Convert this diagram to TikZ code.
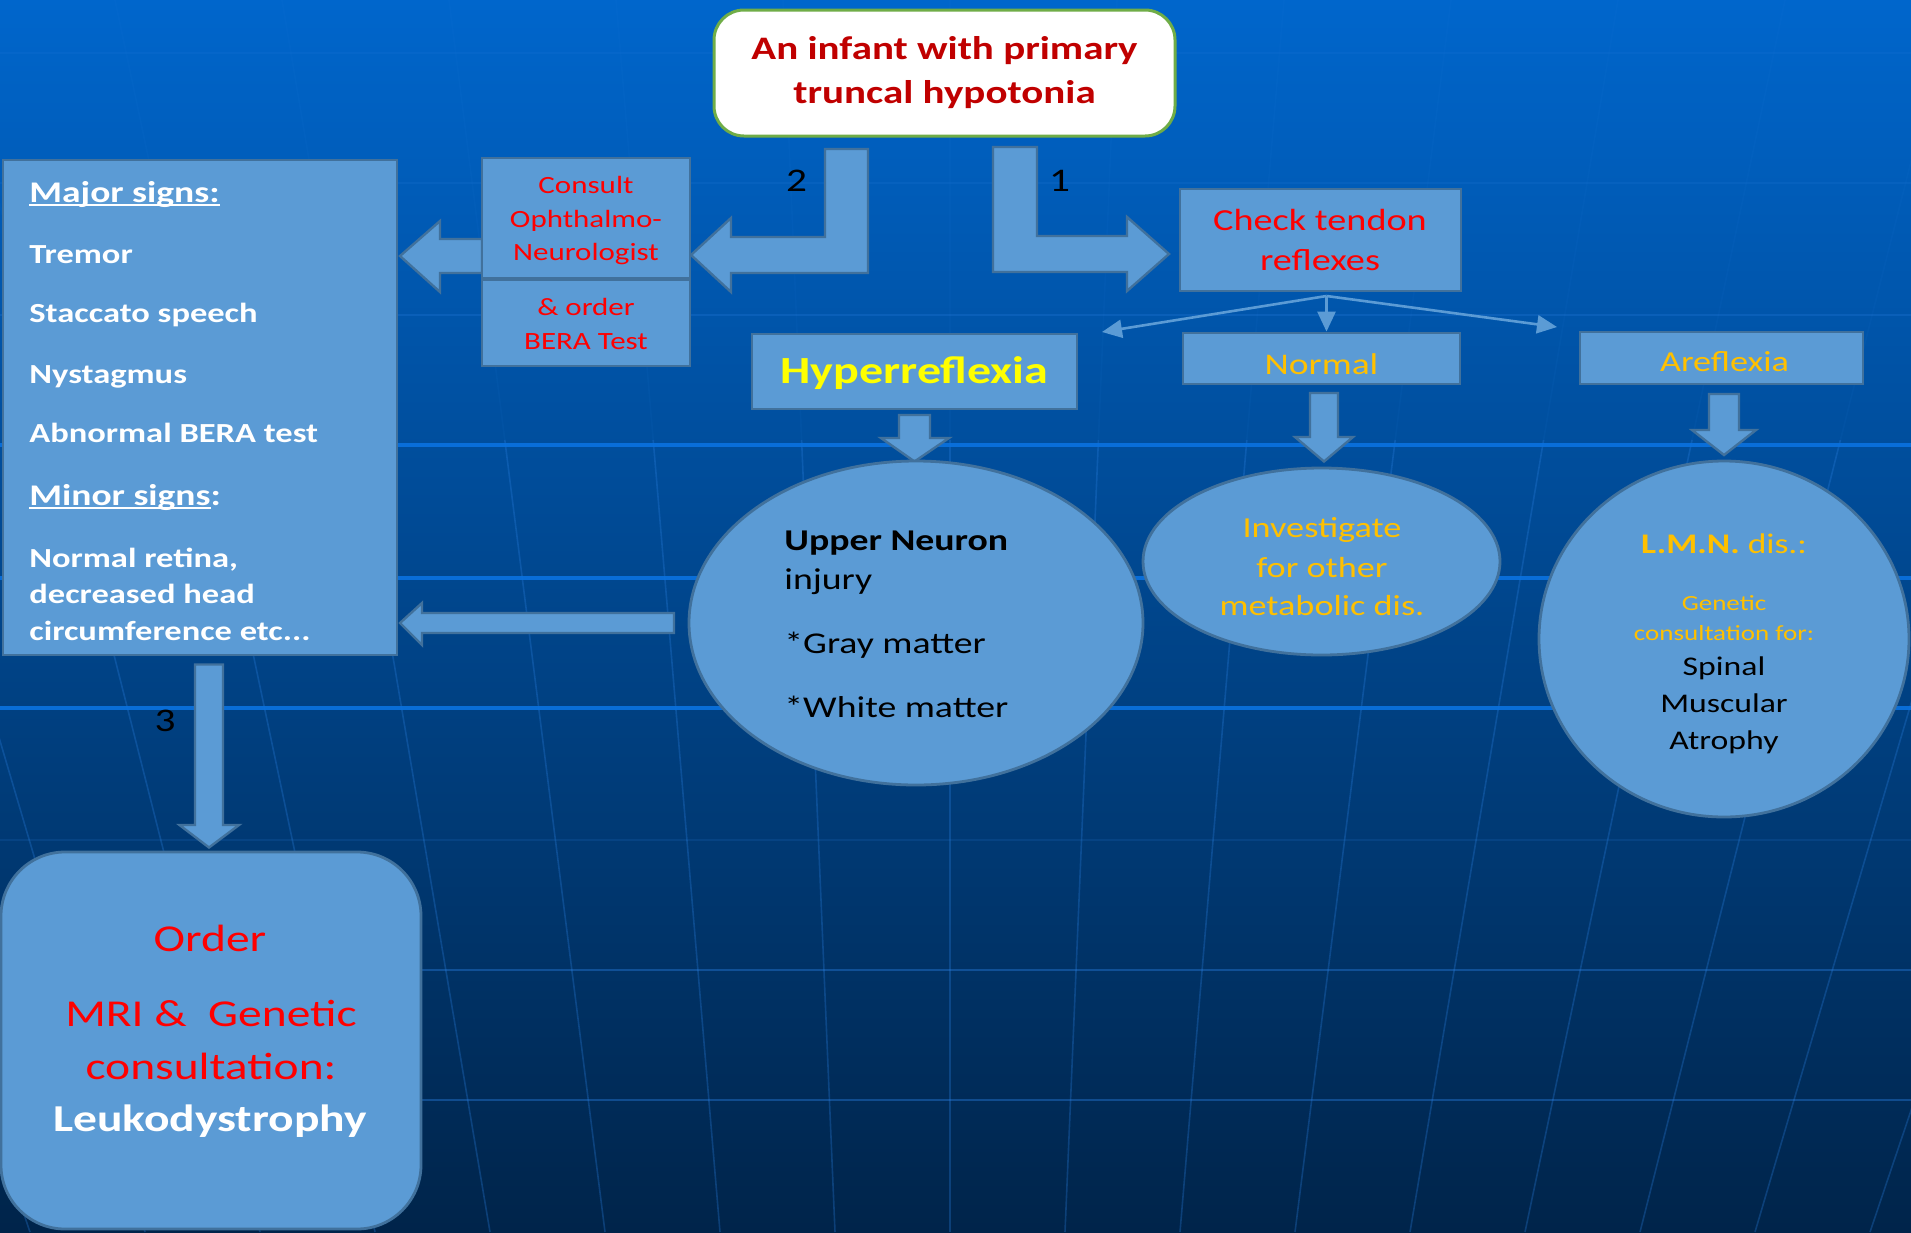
\documentclass[tikz,border=0pt]{standalone}
\usepackage{fontspec}
\setmainfont{Carlito}[FakeStretch=1.25]
\usetikzlibrary{shapes.geometric,arrows.meta}
\definecolor{bgtop}{HTML}{0066CC}
\definecolor{bgmid}{HTML}{004C98}
\definecolor{bgbot}{HTML}{00244A}
\definecolor{boxfill}{HTML}{5B9BD5}
\definecolor{boxline}{HTML}{41719C}
\definecolor{txtred}{HTML}{FF0000}
\definecolor{darkred}{HTML}{C00000}
\definecolor{gold}{HTML}{FFC000}
\definecolor{brightyellow}{HTML}{FFFF00}
\definecolor{topgreen}{HTML}{70AD47}
\definecolor{gridbright}{HTML}{0A72E0}
\definecolor{gridfaint}{HTML}{2A7FE0}
\newcommand\fs[1]{\fontsize{#1}{#1}\selectfont}
\newcommand\myul[1]{\setbox0\hbox{#1}\rlap{\rule[-2.2pt]{\wd0}{1.1pt}}\box0}
\tikzset{
  panel/.style={draw=boxline, line width=1.4pt, fill=boxfill, rectangle, inner sep=0pt},
  blockarrow/.style={draw=boxline, line width=1.2pt, fill=boxfill, line join=miter},
  txt/.style={anchor=base, inner sep=0pt},
  txtl/.style={anchor=base west, inner sep=0pt},
  splitarrow/.style={draw=boxfill, line width=1.3pt, -{Triangle[length=10pt,width=9pt]}},
  digit/.style={anchor=base, inner sep=0pt, font=\fs{16.5}, text=black},
}
\begin{document}
\begin{tikzpicture}[x=0.5pt,y=-0.5pt]
\useasboundingbox (0,0) rectangle (1911,1232);
% background
\shade[top color=bgtop, middle color=bgmid, bottom color=bgbot] (0,0) rectangle (1911,1232);
\begin{scope}
\clip (0,0) rectangle (1911,1232);
\foreach \k in {-12,...,12} {
  \draw[gridfaint, opacity=0.07, line width=0.8pt] ({950+\k*167},0) -- ({950+\k*148.4},440);
  \draw[gridfaint, opacity=0.3, line width=0.8pt] ({950+\k*148.4},440) -- ({950+\k*115},1232);
}
\foreach \yy/\op in {53/0.12,183/0.15,315/0.25,840/0.15,970/0.4,1100/0.4}
  \draw[gridfaint, opacity=\op, line width=1.2pt] (0,\yy) -- (1911,\yy);
\foreach \yy in {445,578,708}
  \draw[gridbright, opacity=0.9, line width=1.6pt] (0,\yy) -- (1911,\yy);
\end{scope}

% block arrows
\draw[blockarrow] (482,239) -- (440,239) -- (440,221) -- (400,256) -- (440,292) -- (440,273) -- (482,273) -- cycle;
\draw[blockarrow] (868,149) -- (868,273) -- (731,273) -- (731,292) -- (691,255) -- (731,218) -- (731,237) -- (825,237) -- (825,149) -- cycle;
\draw[blockarrow] (993,147) -- (1037,147) -- (1037,236) -- (1127,236) -- (1127,217) -- (1169,254) -- (1127,291) -- (1127,272) -- (993,272) -- cycle;
\draw[blockarrow] (899,415) -- (930,415) -- (930,438) -- (949,438) -- (914.5,461.5) -- (881,438) -- (899,438) -- cycle;
\draw[blockarrow] (1310,393) -- (1338,393) -- (1338,437) -- (1353,437) -- (1324,461.5) -- (1295,437) -- (1310,437) -- cycle;
\draw[blockarrow] (1709,394) -- (1739,394) -- (1739,430) -- (1756,430) -- (1724,455) -- (1692,430) -- (1709,430) -- cycle;
\draw[blockarrow] (674,613) -- (422,613) -- (422,603) -- (400,623) -- (422,645) -- (422,633) -- (674,633) -- cycle;
\draw[blockarrow] (195,664.5) -- (223,664.5) -- (223,825) -- (239,825) -- (209,847.5) -- (179.5,825) -- (195,825) -- cycle;

% boxes
\node[draw=topgreen, line width=1.5pt, fill=white, rounded corners=15pt, minimum width=230.5pt, minimum height=63pt, inner sep=0pt] (top) at (944.5,73) {};
\node[panel, minimum width=197pt, minimum height=247.5pt] (signs) at (200,407.5) {};
\node[panel, minimum width=104pt, minimum height=60pt] (consult) at (586,218) {};
\node[panel, minimum width=104pt, minimum height=43pt] (bera) at (586,323) {};
\node[panel, minimum width=140.5pt, minimum height=51pt] (check) at (1320.5,240) {};
\node[panel, minimum width=162.5pt, minimum height=37.5pt] (hyper) at (914.5,371.5) {};
\node[panel, minimum width=138.5pt, minimum height=25.5pt] (normal) at (1321.5,358.5) {};
\node[panel, minimum width=141.5pt, minimum height=26pt] (arefl) at (1721.5,358) {};
\node[panel, ellipse, minimum width=227pt, minimum height=162pt] (umn) at (916,623) {};
\node[panel, ellipse, minimum width=178.5pt, minimum height=93.5pt] (invest) at (1321.5,561.5) {};
\node[panel, ellipse, minimum width=185pt, minimum height=178pt] (lmn) at (1724,639) {};
\node[panel, rounded corners=32pt, minimum width=210pt, minimum height=188.5pt] (order) at (211,1040.5) {};

% split arrows
\coordinate (fork) at (1326.5,296);
\coordinate (lend) at (1102,332);
\coordinate (rend) at (1557,327);
\draw[splitarrow] (fork) -- (lend);
\draw[splitarrow] (fork) -- (fork |- normal.north);
\draw[splitarrow] (fork) -- (rend);

% digits
\node[digit] (d2) at (796.5,191) {2};
\node[digit] (d1) at (1059.5,191) {1};
\node[digit] (d3) at (165,731) {3};

% texts top
\begin{scope}[every node/.append style={text=darkred, font=\fs{16.4}\bfseries}]
\node[txt] (t1a) at (944.5,59) {An infant with primary};
\node[txt] (t1b) at (944.5,103) {truncal hypotonia};
\end{scope}
% signs
\begin{scope}[every node/.append style={text=white}]
\node[txtl, font=\fs{15}\bfseries] (s1) at (29,202) {\myul{Major signs:}};
\node[txtl, font=\fs{13.8}\bfseries] (s2) at (29,263) {Tremor};
\node[txtl, font=\fs{13.8}\bfseries] (s3) at (29,322) {Staccato speech};
\node[txtl, font=\fs{13.8}\bfseries] (s4) at (29,383) {Nystagmus};
\node[txtl, font=\fs{13.8}\bfseries] (s5) at (29,442) {Abnormal BERA test};
\node[txtl, font=\fs{15}\bfseries] (s6) at (29,505) {\myul{Minor signs}:};
\node[txtl, font=\fs{13.8}\bfseries] (s7) at (29,567) {Normal retina,};
\node[txtl, font=\fs{13.8}\bfseries] (s8) at (29,603) {decreased head};
\node[txtl, font=\fs{13.8}\bfseries] (s9) at (29,640) {circumference etc...};
\end{scope}
% consult
\begin{scope}[every node/.append style={text=txtred, font=\fs{12.4}}]
\node[txt] (c1) at (586,193) {Consult};
\node[txt] (c2) at (586,227) {Ophthalmo-};
\node[txt] (c3) at (586,260) {Neurologist};
\node[txt] (c4) at (586,315) {\& order};
\node[txt] (c5) at (586,349) {BERA Test};
\end{scope}
% check
\node[txt, text=txtred, font=\fs{15.3}] (k1) at (1320,230) {Check tendon};
\node[txt, text=txtred, font=\fs{15.3}] (k2) at (1320,270.5) {reflexes};
% level 2
\node[txt, text=brightyellow, font=\fs{19.2}\bfseries] (h1) at (914.5,383) {Hyperreflexia};
\node[txt, text=gold, font=\fs{15}] (n1) at (1321.5,374) {Normal};
\node[txt, text=gold, font=\fs{14.5}] (a1) at (1724.5,371) {Areflexia};
% umn texts
\begin{scope}[every node/.append style={text=black, font=\fs{15.1}}]
\node[txtl] (u1) at (784,550) {\bfseries Upper Neuron};
\node[txtl] (u2) at (784,589) {injury};
\node[txtl] (u3) at (784,653) {*Gray matter};
\node[txtl] (u4) at (784,717) {*White matter};
\end{scope}
% investigate
\begin{scope}[every node/.append style={text=gold, font=\fs{14.5}}]
\node[txt] (i1) at (1322,537) {Investigate};
\node[txt] (i2) at (1322,577) {for other};
\node[txt] (i3) at (1322,615) {metabolic dis.};
\end{scope}
% lmn
\node[txt, text=gold, font=\fs{14.2}] (l1) at (1724,553) {\textbf{L.M.N.} dis.:};
\node[txt, text=gold, font=\fs{10.8}] (l2) at (1724,610) {Genetic};
\node[txt, text=gold, font=\fs{10.8}] (l3) at (1724,640.5) {consultation for:};
\node[txt, text=black, font=\fs{13.5}] (l4) at (1724,675) {Spinal};
\node[txt, text=black, font=\fs{13.5}] (l5) at (1724,712) {Muscular};
\node[txt, text=black, font=\fs{13.5}] (l6) at (1724,749) {Atrophy};
% order
\node[txt, text=txtred, font=\fs{19}] (o1) at (210,951) {Order};
\node[txt, text=txtred, font=\fs{19}] (o2) at (211,1026) {MRI \&\ \ Genetic};
\node[txt, text=txtred, font=\fs{19}] (o3) at (211,1079) {consultation:};
\node[txt, text=white, font=\fs{19}\bfseries] (o4) at (210,1131) {Leukodystrophy};
\end{tikzpicture}
\end{document}
